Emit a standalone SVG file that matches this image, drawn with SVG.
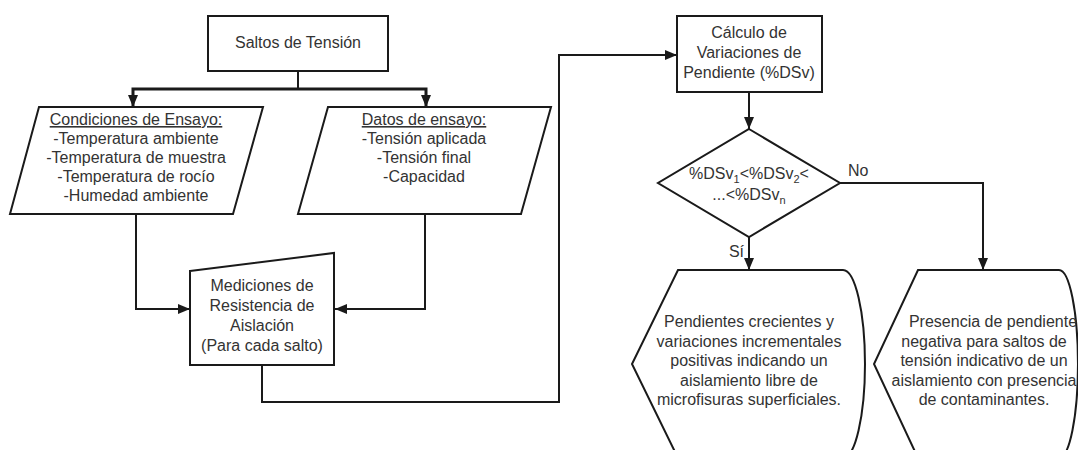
<svg xmlns="http://www.w3.org/2000/svg" width="1078" height="450" viewBox="0 0 1078 450">
<style>
.s{fill:#fff;stroke:#1a1a1a;stroke-width:2}
.c{fill:none;stroke:#1a1a1a;stroke-width:2}
.t{font-family:"Liberation Sans",Arial,sans-serif;font-size:16px;fill:#333;text-anchor:middle}
.u{text-decoration:underline}
.sb{font-size:11px}
</style>
<defs>
<marker id="ah" markerUnits="userSpaceOnUse" markerWidth="12" markerHeight="10" refX="12" refY="5" orient="auto">
<path d="M0,0 L12,5 L0,10 Z" fill="#1a1a1a"/>
</marker>
</defs>
<rect width="1078" height="450" fill="#fff"/>
<g id="connectors">
<path class="c" d="M298,71 V89"/>
<path class="c" style="stroke-width:3" d="M298,89 H133 V107" marker-end="url(#ah)"/>
<path class="c" style="stroke-width:3" d="M298,89 H426 V107" marker-end="url(#ah)"/>
<path class="c" d="M136,214 V309 H190" marker-end="url(#ah)"/>
<path class="c" d="M425,214 V309 H335" marker-end="url(#ah)"/>
<path class="c" d="M262,365 V402 H559 V55 H677" marker-end="url(#ah)"/>
<path class="c" d="M749,92 V129" marker-end="url(#ah)"/>
<path class="c" d="M749,237 V270" marker-end="url(#ah)"/>
<path class="c" d="M840,183 H983 V270" marker-end="url(#ah)"/>
<text class="t" x="848" y="176" style="text-anchor:start">No</text>
<text class="t" x="744" y="257" style="text-anchor:end">Sí</text>
</g>
<g id="saltos">
<rect class="s" x="208" y="16" width="180" height="55"/>
<text class="t" x="298" y="48">Saltos de Tensión</text>
</g>
<g id="condiciones">
<path class="s" d="M39,107 H263 L233,214 H10 Z"/>
<text class="t" x="136" y="125"><tspan class="u">Condiciones de Ensayo:</tspan></text>
<text class="t" x="136" y="144">-Temperatura ambiente</text>
<text class="t" x="136" y="163">-Temperatura de muestra</text>
<text class="t" x="136" y="182">-Temperatura de rocío</text>
<text class="t" x="136" y="201">-Humedad ambiente</text>
</g>
<g id="datos">
<path class="s" d="M328,107 H551 L521,214 H298 Z"/>
<text class="t" x="424" y="125"><tspan class="u">Datos de ensayo:</tspan></text>
<text class="t" x="424" y="144">-Tensión aplicada</text>
<text class="t" x="424" y="163">-Tensión final</text>
<text class="t" x="424" y="182">-Capacidad</text>
</g>
<g id="mediciones">
<path class="s" d="M190,271 L334,253 V365 H190 Z"/>
<text class="t" x="262" y="291">Mediciones de</text>
<text class="t" x="262" y="311">Resistencia de</text>
<text class="t" x="262" y="331">Aislación</text>
<text class="t" x="262" y="351">(Para cada salto)</text>
</g>
<g id="calculo">
<rect class="s" x="677" y="16" width="145" height="76"/>
<text class="t" x="749" y="38">Cálculo de</text>
<text class="t" x="749" y="58">Variaciones de</text>
<text class="t" x="749" y="78">Pendiente (%DSv)</text>
</g>
<g id="decision">
<path class="s" d="M749,129 L840,183 L749,237 L658,183 Z"/>
<text class="t" x="749" y="179">%DSv<tspan class="sb" dy="4">1</tspan><tspan dy="-4">&lt;%DSv</tspan><tspan class="sb" dy="4">2</tspan><tspan dy="-4">&lt;</tspan></text>
<text class="t" x="749" y="200">...&lt;%DSv<tspan class="sb" dy="4">n</tspan></text>
</g>
<g id="si-result">
<path class="s" d="M678,270 H843 A22,94 0 0 1 843,458 H678 L632,364 Z"/>
<text class="t" x="749" y="327">Pendientes crecientes y</text>
<text class="t" x="749" y="346.5">variaciones incrementales</text>
<text class="t" x="749" y="366">positivas indicando un</text>
<text class="t" x="749" y="385.5">aislamiento libre de</text>
<text class="t" x="749" y="405">microfisuras superficiales.</text>
</g>
<g id="no-result">
<path class="s" d="M918,270 H1059 A19,94 0 0 1 1059,458 H918 L874,364 Z"/>
<text class="t" x="993" y="327">Presencia de pendiente</text>
<text class="t" x="984" y="346.5">negativa para saltos de</text>
<text class="t" x="984" y="366">tensión indicativo de un</text>
<text class="t" x="984" y="385.5">aislamiento con presencia</text>
<text class="t" x="984" y="405">de contaminantes.</text>
</g>
</svg>
